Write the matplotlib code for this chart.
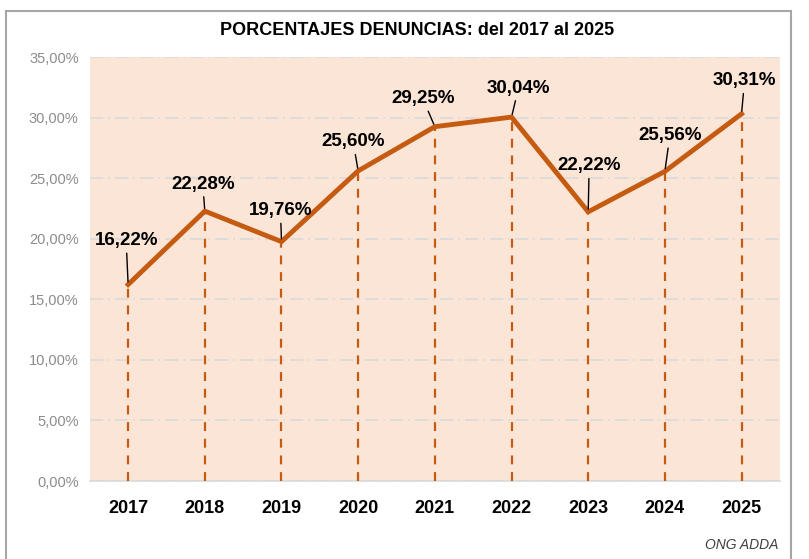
import matplotlib.pyplot as plt
from matplotlib.patches import Rectangle
from matplotlib.ticker import FuncFormatter

years = ['2017', '2018', '2019', '2020', '2021', '2022', '2023', '2024', '2025']
porcentajes = [16.22, 22.28, 19.76, 25.60, 29.25, 30.04, 22.22, 25.56, 30.31]
# label offsets (pixels) relative to each point
label_dx = [-2, -2, -1, -5, -12, 7, 1, 5, 3]
label_dy = [44, 27, 31, 29, 28, 29, 46, 36, 33]

naranja = '#C55A11'
fondo = '#FBE5D6'

plt.rcParams['font.family'] = ['Liberation Sans', 'DejaVu Sans']

fig = plt.figure(figsize=(8.09, 5.59), dpi=100)
ax = fig.add_axes([0.111, 0.1395, 0.853, 0.7585])
ax.set_facecolor(fondo)

x = list(range(len(years)))
ax.plot(x, porcentajes, color=naranja, lw=3.5, solid_joinstyle='miter', zorder=4)
ax.vlines(x, 0, porcentajes, colors=naranja, linestyles=(0, (4, 3.5)), lw=1.6, zorder=3)

for i, v in enumerate(porcentajes):
    ax.annotate(f'{v:.2f}%'.replace('.', ','), xy=(i, v),
                xytext=(label_dx[i], label_dy[i]), textcoords='offset pixels',
                ha='center', va='center', fontsize=13.5, fontweight='bold',
                arrowprops=dict(arrowstyle='-', color='black', lw=1,
                                shrinkA=1, shrinkB=2), zorder=5)

ax.set_xlim(-0.5, len(years) - 0.5)
ax.set_ylim(0, 35)
ax.set_yticks(range(0, 36, 5))
ax.yaxis.set_major_formatter(FuncFormatter(lambda v, p: f'{v:.2f}%'.replace('.', ',')))
ax.set_xticks(x)
ax.set_xticklabels(years, fontsize=13, fontweight='bold')
ax.tick_params(axis='y', length=0, labelsize=10.5, labelcolor='#8C8C8C', pad=8)
ax.tick_params(axis='x', length=0, pad=14)
ax.grid(axis='y', color='#D9D9D9', linestyle=(0, (8, 3, 1, 3)), lw=1.2, zorder=1)
for s in ['top', 'right', 'left']:
    ax.spines[s].set_visible(False)
ax.spines['bottom'].set_color('#D9D9D9')
ax.spines['bottom'].set_linewidth(1.2)

fig.text(0.515, 0.945, 'PORCENTAJES DENUNCIAS: del 2017 al 2025',
         ha='center', va='center', fontsize=13, fontweight='bold')
fig.text(0.962, 0.025, 'ONG ADDA', ha='right', va='center',
         fontsize=10, style='italic', color='#404040')

fig.patches.append(Rectangle((0.0075, -0.01), 0.97, 0.99, transform=fig.transFigure,
                             fill=False, edgecolor='#A6A6A6', lw=1.5))

fig.savefig('out.png', dpi=100)
